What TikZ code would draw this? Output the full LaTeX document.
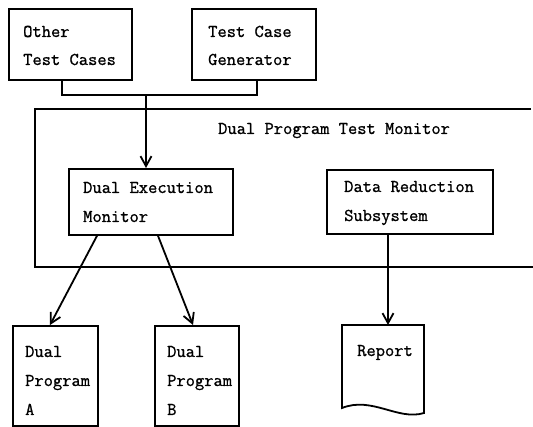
\documentclass[tikz,border=0pt]{standalone}
\usepackage{fontspec}
\newfontfamily\typewriter[FakeBold=1]{Latin Modern Mono}
\usetikzlibrary{arrows.meta}
\tikzset{
  box/.style={draw, line width=1.8pt, inner sep=0pt, anchor=north west},
  txt/.style={anchor=base west, inner sep=0pt, font=\typewriter\fontsize{18}{20}\selectfont},
  wire/.style={line width=1.8pt},
  arr/.style={line width=1.8pt, -{Straight Barb[length=10pt,width=11pt,line width=1.8pt]}},
}
\begin{document}
\begin{tikzpicture}[x=1pt,y=-1pt]
\useasboundingbox (0,0) rectangle (533,427);

% input boxes
\node[box, minimum width=123pt, minimum height=71pt] (other) at (8,8) {};
\node[txt] (otherA) at (23,37) {Other};
\node[txt] (otherB) at (23,65) {Test Cases};

\node[box, minimum width=124pt, minimum height=71pt] (gen) at (191,8) {};
\node[txt] (genA) at (208,37) {Test Case};
\node[txt] (genB) at (208,65) {Generator};

% monitor frame, open to the right
\draw[wire] (531,109) -- (35,109) -- (35,267) -- (533,267);
\node[txt] (montitle) at (218,134) {Dual Program Test Monitor};

% inner boxes
\node[box, minimum width=164pt, minimum height=66pt] (dem) at (68,168) {};
\node[txt] (demA) at (83,193) {Dual Execution};
\node[txt] (demB) at (83,222) {Monitor};

\node[box, minimum width=166pt, minimum height=64pt] (drs) at (326,169) {};
\node[txt] (drsA) at (344,192) {Data Reduction};
\node[txt] (drsB) at (344,221) {Subsystem};

% programs
\node[box, minimum width=85pt, minimum height=100pt] (pa) at (12,325) {};
\node[txt] (paA) at (25,357) {Dual};
\node[txt] (paB) at (25,386) {Program};
\node[txt] (paC) at (25,415) {A};

\node[box, minimum width=84pt, minimum height=100pt] (pb) at (154,325) {};
\node[txt] (pbA) at (167,357) {Dual};
\node[txt] (pbB) at (167,386) {Program};
\node[txt] (pbC) at (167,415) {B};

% report document
\coordinate (rep) at (342,325);
\draw[wire] (rep) -- (424,325) -- (424,413)
  .. controls (398,421) and (372,396) .. (342,408) -- cycle;
\node[txt] (repT) at (357,356) {Report};

% connectors
\coordinate (j) at (146,95);
\coordinate (xl) at (62,0);
\coordinate (xg) at (257,0);
\draw[wire] (other.south -| xl) -- (62,95) -- (257,95) -- (gen.south -| xg);
\draw[arr] (j) -- (j |- dem.north);
\coordinate (xa) at (97,0);
\coordinate (xb) at (50,0);
\coordinate (xc) at (158,0);
\coordinate (xd) at (193,0);
\coordinate (xr) at (388,0);
\draw[arr] (dem.south -| xa) -- (pa.north -| xb);
\draw[arr] (dem.south -| xc) -- (pb.north -| xd);
\draw[arr] (drs.south -| xr) -- (rep -| xr);
\end{tikzpicture}
\end{document}
